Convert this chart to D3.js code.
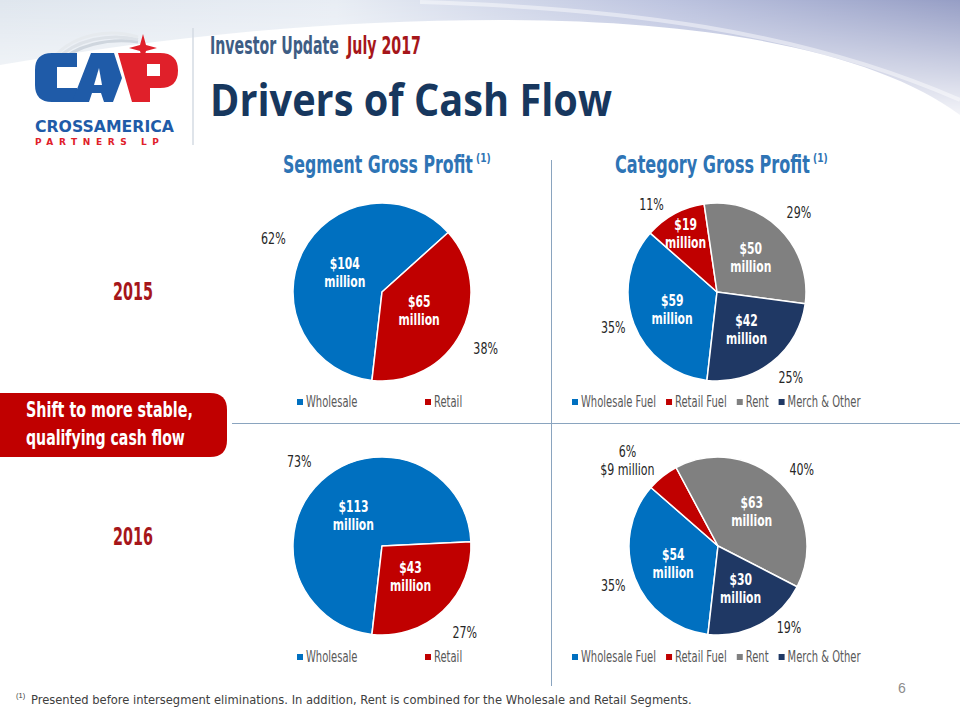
<!DOCTYPE html>
<html><head><meta charset="utf-8">
<script src="https://cdn.jsdelivr.net/npm/d3@7/dist/d3.min.js"></script>
<style>
html,body{margin:0;padding:0;background:#fff;}
svg{display:block;}
</style></head>
<body><svg id="chart" width="960" height="720"></svg>
<script>
// ---------- DATA ----------
const years = ["2015", "2016"];
const segmentCategories = ["Wholesale", "Retail"];
const segment2015 = [104, 65];
const segment2016 = [113, 43];
const segmentPct2015 = ["62%", "38%"];
const segmentPct2016 = ["73%", "27%"];
const categoryCategories = ["Wholesale Fuel", "Retail Fuel", "Rent", "Merch & Other"];
const category2015 = [59, 19, 50, 42];
const category2016 = [54, 9, 63, 30];
const categoryPct2015 = ["35%", "11%", "29%", "25%"];
const categoryPct2016 = ["35%", "6%", "40%", "19%"];
const segmentTitle = "Segment Gross Profit";
const categoryTitle = "Category Gross Profit";
const bannerLines = ["Shift to more stable,", "qualifying cash flow"];
const footnoteText = "Presented before intersegment eliminations.  In addition, Rent is combined for the Wholesale and Retail Segments.";

// ---------- STYLE / LAYOUT ----------
const segColors = ["#0070C0", "#C00000"];
const catColors = ["#0070C0", "#C00000", "#808080", "#1F3864"];
const COND = '"Liberation Sans Narrow","DejaVu Sans Condensed","Roboto Condensed",sans-serif';
const R = 89;
const START = 186.5 * Math.PI / 180;

const svg = d3.select("#chart");
const defs = svg.append("defs");

// narrow a text horizontally by factor k, keeping its height (font shrinks, then stretched vertically)
function squeeze(sel, k) {
  sel.each(function () {
    const t = d3.select(this);
    const fs = +t.attr("font-size");
    const x = +t.attr("x") || 0, y = +t.attr("y") || 0;
    t.attr("font-size", fs * k).attr("x", 0).attr("y", 0)
      .attr("transform", `translate(${x},${y}) scale(1,${1 / k})`);
  });
}
function squeezeTo(sel, w) {
  sel.each(function () {
    const L = this.getComputedTextLength();
    d3.select(this).call(squeeze, w / L);
  });
}

// ---------- BACKGROUND SWOOSH ----------
const g1 = defs.append("linearGradient").attr("id", "bgGrad").attr("x1", 0).attr("x2", 1).attr("y1", 0).attr("y2", 0);
[[0, "#dfe6ee"], [0.35, "#e8edf4"], [0.7, "#bcc3df"], [1, "#969ec5"]].forEach(s => g1.append("stop").attr("offset", s[0]).attr("stop-color", s[1]));
const fade = defs.append("linearGradient").attr("id", "fadeGrad").attr("x1", 0).attr("x2", 0).attr("y1", 0).attr("y2", 1);
[[0, "#fff", 1], [0.5, "#fff", 0.5], [1, "#fff", 0]].forEach(s => fade.append("stop").attr("offset", s[0]).attr("stop-color", s[1]).attr("stop-opacity", s[2]));
const mask = defs.append("mask").attr("id", "fadeMask");
mask.append("rect").attr("width", 960).attr("height", 130).attr("fill", "url(#fadeGrad)");
svg.append("path")
  .attr("d", "M0,0 H960 V115 C880,55 720,20 500,20 C320,20 160,38 0,65 Z")
  .attr("fill", "url(#bgGrad)").attr("mask", "url(#fadeMask)");
svg.append("path")
  .attr("d", "M420,2 C620,8 800,30 960,100")
  .attr("fill", "none").attr("stroke", "#ffffff").attr("stroke-width", 4).attr("opacity", 0.45);

// ---------- LOGO ----------
const logo = svg.append("g");
[[0, "#cfd6de"], [5, "#dde2e8"], [10, "#e6eaee"]].forEach(s => {
  logo.append("path").attr("d", `M55,${66 - s[0]} C75,${44 - s[0]} 110,${38 - s[0]} 138,${42 - s[0] / 2}`)
    .attr("fill", "none").attr("stroke", s[1]).attr("stroke-width", 3);
});
logo.append("path").attr("d", "M77,53 H52 Q35,53 35,70 V85 Q35,102 52,102 H77 V88 H57 V67 H77 Z").attr("fill", "#1F5BA8");
logo.append("path").attr("d", "M72,102 L91,53 H114 L122,78 L113,102 H104 L101,93 H92 L89,102 Z").attr("fill", "#1F5BA8");
logo.append("path").attr("d", "M94,85 L99,68 L102,85 Z").attr("fill", "#ffffff");
logo.append("path").attr("d", "M118,53 H160 Q178,53 178,70.5 Q178,88 160,88 H150 V102 H132 Z").attr("fill", "#E0202A");
logo.append("rect").attr("x", 147).attr("y", 64).attr("width", 13).attr("height", 12).attr("fill", "#ffffff");
logo.append("path").attr("d", "M143,34 L146,45 L157,48 L146,51 L143,62 L140,51 L129,48 L140,45 Z").attr("fill", "#E0202A");
logo.append("text").attr("x", 35).attr("y", 132).text("CROSSAMERICA")
  .attr("font-family", "DejaVu Sans, sans-serif").attr("font-weight", "bold").attr("font-size", 15.5)
  .attr("fill", "#1F5BA8").call(squeezeTo, 139);
logo.append("text").attr("x", 35).attr("y", 145).text("PARTNERS LP")
  .attr("font-family", "DejaVu Sans, sans-serif").attr("font-weight", "bold").attr("font-size", 9)
  .attr("fill", "#E0202A").attr("letter-spacing", 5.6);
svg.append("line").attr("x1", 193).attr("x2", 193).attr("y1", 28).attr("y2", 145)
  .attr("stroke", "#d4dbe3").attr("stroke-width", 1.5);

// ---------- HEADER ----------
svg.append("text").attr("x", 210).attr("y", 54).text("Investor Update")
  .attr("font-family", COND).attr("font-weight", "bold").attr("font-size", 24).attr("fill", "#3E5D84")
  .call(squeezeTo, 129);
svg.append("text").attr("x", 347).attr("y", 54).text("July 2017")
  .attr("font-family", COND).attr("font-weight", "bold").attr("font-size", 24).attr("fill", "#A6161A")
  .call(squeezeTo, 74);
svg.append("text").attr("x", 210).attr("y", 116).text("Drivers of Cash Flow")
  .attr("font-family", "Open Sans, sans-serif").attr("font-weight", "bold").attr("font-size", 44)
  .attr("fill", "#17375E").call(squeezeTo, 402);

// ---------- DIVIDERS ----------
svg.append("line").attr("x1", 551.5).attr("x2", 551.5).attr("y1", 160).attr("y2", 686)
  .attr("stroke", "#8aa4bf").attr("stroke-width", 1);
svg.append("line").attr("x1", 232).attr("x2", 960).attr("y1", 423.5).attr("y2", 423.5)
  .attr("stroke", "#8aa4bf").attr("stroke-width", 1);

// ---------- BANNER ----------
svg.append("path").attr("d", "M0,393 H210 Q227,393 227,410 V440 Q227,457 210,457 H0 Z").attr("fill", "#C00000");
svg.selectAll(".banner").data(bannerLines).enter().append("text")
  .attr("x", 26).attr("y", (d, i) => 417 + i * 28).text(d => d)
  .attr("font-family", COND).attr("font-weight", "bold").attr("font-size", 22).attr("fill", "#fff")
  .each(function (d, i) { d3.select(this).call(squeezeTo, [167, 159][i]); });

// ---------- YEAR LABELS ----------
svg.selectAll(".year").data(years).enter().append("text")
  .attr("x", 113).attr("y", (d, i) => [300, 545][i]).text(d => d)
  .attr("font-family", COND).attr("font-weight", "bold").attr("font-size", 25).attr("fill", "#A6161A")
  .call(squeezeTo, 40);

// ---------- TITLES ----------
function title(x, y, txt, w) {
  svg.append("text").attr("x", x).attr("y", y).text(txt)
    .attr("font-family", COND).attr("font-weight", "bold").attr("font-size", 25).attr("fill", "#2E74B5")
    .call(squeezeTo, w);
  svg.append("text").attr("x", x + w + 3).attr("y", y - 11).text("(1)")
    .attr("font-family", COND).attr("font-weight", "bold").attr("font-size", 12).attr("fill", "#2E74B5")
    .call(squeeze, 0.85);
}
title(283, 173, segmentTitle, 190);
title(615, 173, categoryTitle, 195);

// ---------- PIES ----------
function drawPie(opt) {
  const { cx, cy, values, pcts, cats, colors, nudges, legendMode } = opt;
  const total = d3.sum(values);
  const g = svg.append("g").attr("transform", `translate(${cx},${cy})`);
  const pie = d3.pie().sort(null).startAngle(START).endAngle(START + 2 * Math.PI);
  const arcs = pie(values);
  const arc = d3.arc().innerRadius(0).outerRadius(R);
  g.selectAll("path").data(arcs).enter().append("path")
    .attr("d", arc).attr("fill", (d, i) => colors[i])
    .attr("stroke", "#fff").attr("stroke-width", 1.5).attr("stroke-linejoin", "round");

  // inner value labels
  arcs.forEach((d) => {
    const share = d.value / total;
    if (share < 0.08) return;
    const lr = share < 0.15 ? R * 0.74 : (values.length > 2 ? R * 0.54 : R * 0.47);
    const c = d3.arc().innerRadius(lr).outerRadius(lr).centroid(d);
    ["$" + d.value, "million"].forEach((s, k) => {
      g.append("text").attr("text-anchor", "middle").attr("x", c[0]).attr("y", c[1] - 9 + k * 18).attr("dy", "0.35em").text(s)
        .attr("font-family", COND).attr("font-weight", "bold").attr("font-size", 15).attr("fill", "#fff")
        .call(squeeze, 0.8);
    });
  });

  // outer percentage labels
  arcs.forEach((d, i) => {
    const share = d.value / total;
    const lr = R * 1.31;
    const c = d3.arc().innerRadius(lr).outerRadius(lr).centroid(d);
    const n = nudges[i] || [0, 0];
    const x = c[0] + n[0], y = c[1] + n[1];
    const lines = share < 0.08 ? [pcts[i], "$" + d.value + " million"] : [pcts[i]];
    lines.forEach((s, k) => {
      g.append("text").attr("text-anchor", "middle").attr("x", x).attr("y", y - (lines.length - 1) * 9 + k * 18).attr("dy", "0.35em").text(s)
        .attr("font-family", COND).attr("font-size", 15).attr("fill", "#262626")
        .call(squeeze, 0.82);
    });
  });

  // legend
  const lg = svg.append("g").attr("transform", `translate(0,${cy + opt.legendDy})`);
  let x = opt.legendX;
  cats.forEach((c, i) => {
    lg.append("rect").attr("x", x).attr("y", -3).attr("width", 6).attr("height", 6).attr("fill", colors[i]);
    const t = lg.append("text").attr("x", x + 9).attr("y", 0).attr("dy", "0.35em").text(c)
      .attr("font-family", COND).attr("font-size", 15).attr("fill", "#595959");
    const w = t.node().getComputedTextLength() * 0.74;
    t.call(squeeze, 0.74);
    x = legendMode === "slots" ? x + 128 : x + 9 + w + 10;
  });
}

drawPie({ cx: 382, cy: 292, values: segment2015, pcts: segmentPct2015, cats: segmentCategories, colors: segColors,
  nudges: [[-5, 0], [0, 3]], legendMode: "slots", legendX: 297, legendDy: 110 });
drawPie({ cx: 717, cy: 292, values: category2015, pcts: categoryPct2015, cats: categoryCategories, colors: catColors,
  nudges: [[5, -6], [-10, 15], [0, 4], [2, -6]], legendMode: "pack", legendX: 572, legendDy: 110 });
drawPie({ cx: 382, cy: 546, values: segment2016, pcts: segmentPct2016, cats: segmentCategories, colors: segColors,
  nudges: [[-3, 1], [3, 2]], legendMode: "slots", legendX: 297, legendDy: 111 });
drawPie({ cx: 718, cy: 546, values: category2016, pcts: categoryPct2016, cats: categoryCategories, colors: catColors,
  nudges: [[4, -2], [-18, 6], [2, 7], [16, -21]], legendMode: "pack", legendX: 572, legendDy: 111 });

// ---------- FOOTNOTE ----------
svg.append("text").attr("x", 16).attr("y", 698).text("(1)").attr("font-family", "Liberation Sans, Arial, sans-serif")
  .attr("font-size", 7.5).attr("fill", "#404040");
svg.append("text").attr("x", 31).attr("y", 704).text(footnoteText)
  .attr("font-family", "DejaVu Sans Condensed, Liberation Sans, sans-serif")
  .attr("font-size", 12).attr("fill", "#404040").call(squeezeTo, 661);
svg.append("text").attr("x", 902).attr("y", 693).attr("text-anchor", "middle").text("6")
  .attr("font-family", "Liberation Sans, Arial, sans-serif").attr("font-size", 14).attr("fill", "#8c8c8c");
</script></body></html>
